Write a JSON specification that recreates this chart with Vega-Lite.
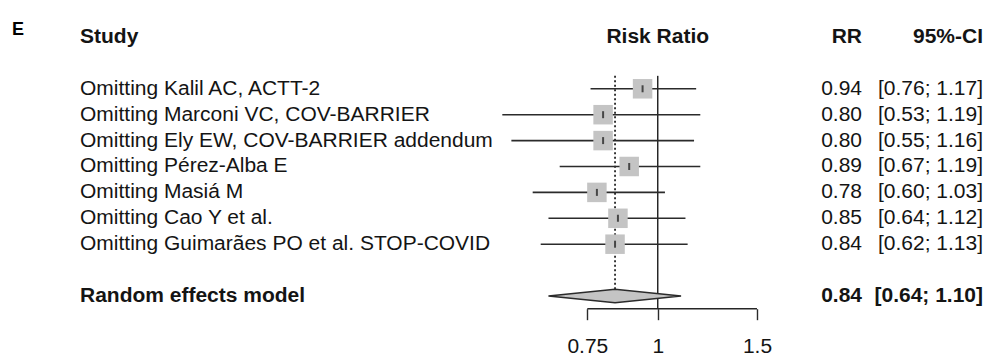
{
  "$schema": "https://vega.github.io/schema/vega-lite/v6.json",
  "background": "white",
  "padding": {"left": 12, "top": 20, "right": 0, "bottom": 0},
  "spacing": 0,
  "bounds": "flush",
  "config": {
    "view": {"stroke": null},
    "text": {"font": "Liberation Sans", "fontSize": 21, "color": "#141414", "baseline": "middle"},
    "concat": {"spacing": 0}
  },
  "datasets": {
    "headers": [
      {"col": "panel", "label": "E"},
      {"col": "study", "label": "Study"},
      {"col": "plot", "label": "Risk Ratio"},
      {"col": "rr", "label": "RR"},
      {"col": "ci", "label": "95%-CI"}
    ],
    "studies": [
      {"row": 1, "study": "Omitting Kalil AC, ACTT-2", "rr": 0.94, "lower": 0.76, "upper": 1.17, "ci": "[0.76; 1.17]"},
      {"row": 2, "study": "Omitting Marconi VC, COV-BARRIER", "rr": 0.80, "lower": 0.53, "upper": 1.19, "ci": "[0.53; 1.19]"},
      {"row": 3, "study": "Omitting Ely EW, COV-BARRIER addendum", "rr": 0.80, "lower": 0.55, "upper": 1.16, "ci": "[0.55; 1.16]"},
      {"row": 4, "study": "Omitting Pérez-Alba E", "rr": 0.89, "lower": 0.67, "upper": 1.19, "ci": "[0.67; 1.19]"},
      {"row": 5, "study": "Omitting Masiá M", "rr": 0.78, "lower": 0.60, "upper": 1.03, "ci": "[0.60; 1.03]"},
      {"row": 6, "study": "Omitting Cao Y et al.", "rr": 0.85, "lower": 0.64, "upper": 1.12, "ci": "[0.64; 1.12]"},
      {"row": 7, "study": "Omitting Guimarães PO et al. STOP-COVID", "rr": 0.84, "lower": 0.62, "upper": 1.13, "ci": "[0.62; 1.13]"}
    ],
    "pooled": [
      {"row": 9, "study": "Random effects model", "rr": 0.84, "lower": 0.64, "upper": 1.10, "ci": "[0.64; 1.10]"}
    ],
    "diamond": [
      {"rr": 0.64, "top": 9, "bottom": 9},
      {"rr": 0.84, "top": 8.74, "bottom": 9.26},
      {"rr": 1.10, "top": 9, "bottom": 9}
    ]
  },
  "resolve": {"scale": {"x": "independent", "y": "independent"}},
  "hconcat": [
    {
      "width": 68,
      "height": 285.7,
      "data": {"name": "headers"},
      "transform": [{"filter": "datum.col === 'panel'"}],
      "mark": {"type": "text", "fontWeight": "bold", "align": "left", "color": "#000", "font": "Liberation Sans", "fontSize": 18},
      "encoding": {
        "x": {"datum": 0, "type": "quantitative", "scale": {"domain": [0, 1]}, "axis": null},
        "y": {"datum": -1.28, "type": "quantitative", "scale": {"domain": [-1.54, 9.49], "reverse": true, "nice": false, "zero": false}, "axis": null},
        "text": {"field": "label"}
      }
    },
    {
      "width": 410,
      "height": 285.7,
      "layer": [
        {
          "data": {"name": "headers"},
          "transform": [{"filter": "datum.col === 'study'"}],
          "mark": {"type": "text", "align": "left", "fontWeight": "bold"},
          "encoding": {
            "x": {"datum": 0, "type": "quantitative", "scale": {"domain": [0, 1]}, "axis": null},
            "y": {"datum": -1, "type": "quantitative", "scale": {"domain": [-1.54, 9.49], "reverse": true, "nice": false, "zero": false}, "axis": null},
            "text": {"field": "label"}
          }
        },
        {
          "data": {"name": "studies"},
          "mark": {"type": "text", "align": "left"},
          "encoding": {
            "x": {"datum": 0, "type": "quantitative"},
            "y": {"field": "row", "type": "quantitative"},
            "text": {"field": "study"}
          }
        },
        {
          "data": {"name": "pooled"},
          "mark": {"type": "text", "align": "left", "fontWeight": "bold"},
          "encoding": {
            "x": {"datum": 0, "type": "quantitative"},
            "y": {"field": "row", "type": "quantitative"},
            "text": {"field": "study"}
          }
        }
      ]
    },
    {
      "width": 300,
      "height": 285.7,
      "encoding": {
        "x": {"type": "quantitative", "scale": {"type": "log", "domain": [0.504, 1.7166], "nice": false, "zero": false},
              "axis": {"values": [0.75, 1, 1.5], "format": "~g", "domain": false, "grid": false, "title": null,
                       "ticks": true, "tickSize": 11, "tickWidth": 1.4, "tickColor": "#2b2b2b",
                       "labelFont": "Liberation Sans", "labelFontSize": 21, "labelColor": "#141414",
                       "labelPadding": 16, "labelFlush": false}},
        "y": {"type": "quantitative", "scale": {"domain": [-1.54, 9.49], "reverse": true, "nice": false, "zero": false}, "axis": null}
      },
      "layer": [
        {
          "data": {"name": "headers"},
          "transform": [{"filter": "datum.col === 'plot'"}],
          "mark": {"type": "text", "align": "center", "fontWeight": "bold"},
          "encoding": {"x": {"datum": 1}, "y": {"datum": -1}, "text": {"field": "label"}}
        },
        {
          "data": {"name": "pooled"},
          "mark": {"type": "rule", "color": "#262626", "strokeWidth": 1.5},
          "encoding": {"x": {"datum": 1}, "y": {"datum": 0.5}, "y2": {"datum": 9.49}}
        },
        {
          "data": {"name": "pooled"},
          "mark": {"type": "rule", "color": "#262626", "strokeWidth": 1.8, "strokeDash": [2, 2.5]},
          "encoding": {"x": {"field": "rr"}, "y": {"datum": 0.5}, "y2": {"datum": 8.74}}
        },
        {
          "data": {"name": "pooled"},
          "mark": {"type": "rule", "color": "#262626", "strokeWidth": 1.5},
          "encoding": {"x": {"datum": 0.75}, "x2": {"datum": 1.5}, "y": {"datum": 9.49}}
        },
        {
          "data": {"name": "studies"},
          "mark": {"type": "rule", "color": "#2b2b2b", "strokeWidth": 1.6},
          "encoding": {"x": {"field": "lower"}, "x2": {"field": "upper"}, "y": {"field": "row"}}
        },
        {
          "data": {"name": "studies"},
          "mark": {"type": "point", "shape": "square", "filled": true, "color": "#c4c4c4", "opacity": 1, "size": 380},
          "encoding": {"x": {"field": "rr"}, "y": {"field": "row"}}
        },
        {
          "data": {"name": "studies"},
          "mark": {"type": "tick", "orient": "vertical", "color": "#111", "size": 7, "thickness": 2},
          "encoding": {"x": {"field": "rr"}, "y": {"field": "row"}}
        },
        {
          "data": {"name": "diamond"},
          "mark": {"type": "area", "orient": "vertical", "color": "#c4c4c4", "stroke": "#2b2b2b", "strokeWidth": 1.5, "opacity": 1},
          "encoding": {"x": {"field": "rr"}, "y": {"field": "top"}, "y2": {"field": "bottom"}}
        }
      ]
    },
    {
      "width": 72,
      "height": 285.7,
      "encoding": {
        "x": {"datum": 1, "type": "quantitative", "scale": {"domain": [0, 1]}, "axis": null},
        "y": {"type": "quantitative", "scale": {"domain": [-1.54, 9.49], "reverse": true, "nice": false, "zero": false}, "axis": null}
      },
      "layer": [
        {
          "data": {"name": "headers"},
          "transform": [{"filter": "datum.col === 'rr'"}],
          "mark": {"type": "text", "align": "right", "fontWeight": "bold"},
          "encoding": {"y": {"datum": -1}, "text": {"field": "label"}}
        },
        {
          "data": {"name": "studies"},
          "mark": {"type": "text", "align": "right"},
          "encoding": {"y": {"field": "row"}, "text": {"field": "rr", "format": ".2f"}}
        },
        {
          "data": {"name": "pooled"},
          "mark": {"type": "text", "align": "right", "fontWeight": "bold"},
          "encoding": {"y": {"field": "row"}, "text": {"field": "rr", "format": ".2f"}}
        }
      ]
    },
    {
      "width": 121,
      "height": 285.7,
      "encoding": {
        "x": {"datum": 1, "type": "quantitative", "scale": {"domain": [0, 1]}, "axis": null},
        "y": {"type": "quantitative", "scale": {"domain": [-1.54, 9.49], "reverse": true, "nice": false, "zero": false}, "axis": null}
      },
      "layer": [
        {
          "data": {"name": "headers"},
          "transform": [{"filter": "datum.col === 'ci'"}],
          "mark": {"type": "text", "align": "right", "fontWeight": "bold"},
          "encoding": {"y": {"datum": -1}, "text": {"field": "label"}}
        },
        {
          "data": {"name": "studies"},
          "mark": {"type": "text", "align": "right"},
          "encoding": {"y": {"field": "row"}, "text": {"field": "ci"}}
        },
        {
          "data": {"name": "pooled"},
          "mark": {"type": "text", "align": "right", "fontWeight": "bold"},
          "encoding": {"y": {"field": "row"}, "text": {"field": "ci"}}
        }
      ]
    }
  ]
}
